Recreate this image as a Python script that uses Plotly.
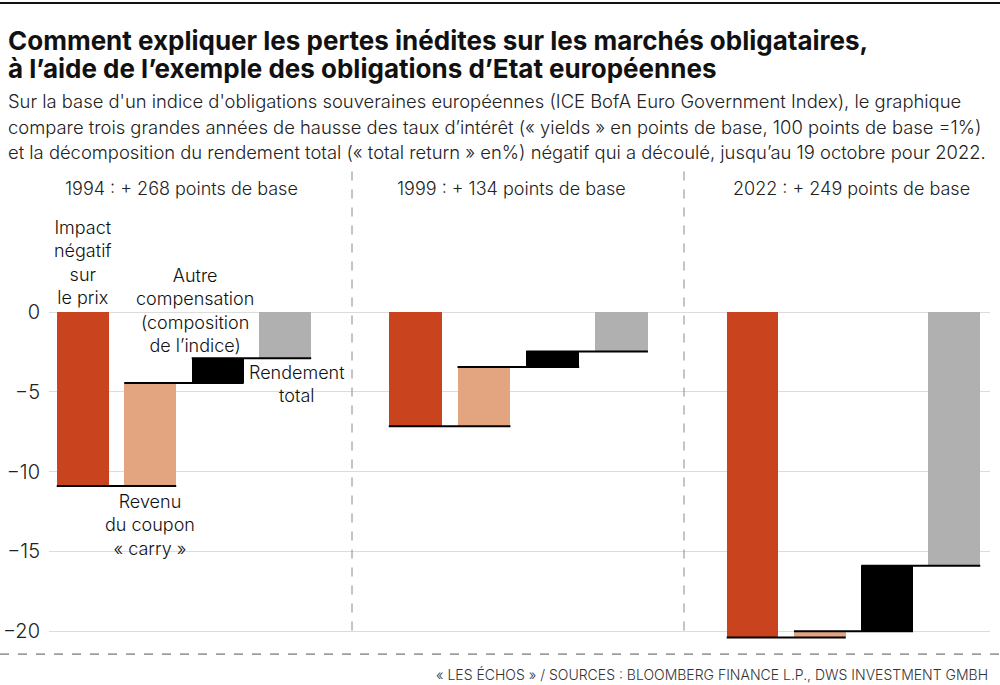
import plotly.graph_objects as go
from plotly.subplots import make_subplots

# ---------------- data ----------------
components = ["Impact négatif sur le prix", "Revenu du coupon « carry »",
              "Autre compensation (composition de l'indice)", "Rendement total"]
years = ["1994", "1999", "2022"]
panel_titles = ["1994 : + 268 points de base", "1999 : + 134 points de base",
                "2022 : + 249 points de base"]
price_impact = [-10.9, -7.15, -20.4]
carry_income = [6.45, 3.7, 0.4]
other_comp = [1.55, 0.98, 4.1]
total_return = [-2.9, -2.47, -15.9]
ytick_vals = [0, -5, -10, -15, -20]
ytick_text = ["0", "−5", "−10", "−15", "−20"]

colors = ["#C8431E", "#E2A57F", "#000000", "#B0B0B0"]

W, H = 1000, 685
def px(x):
    return x / W
def py(y):
    return 1 - y / H

# plot-area geometry (pixels)
top_px, bot_px = 297, 642.6
panel_px = [(49, 352), (352, 684), (684, 990)]
x_ranges = [[-0.5, 3.99], [-0.92, 3.91], [-1.02, 3.53]]
bar_w = 0.77

fig = make_subplots(rows=1, cols=3, shared_yaxes=False)

for p in range(3):
    vals = [price_impact[p], carry_income[p], other_comp[p], total_return[p]]
    c1 = price_impact[p]
    c2 = c1 + carry_income[p]
    bases = [0, c1, c2, 0]
    xs = list(range(4))
    fig.add_trace(go.Bar(x=xs, y=vals, base=bases, width=bar_w,
                         marker=dict(color=colors, line=dict(width=0)),
                         hoverinfo="skip", showlegend=False),
                  row=1, col=p + 1)
    # connector lines
    levels = [c1, c2, total_return[p]]
    cx, cy = [], []
    for i, lv in enumerate(levels):
        cx += [i - bar_w / 2, i + 1 + bar_w / 2, None]
        cy += [lv, lv, None]
    fig.add_trace(go.Scatter(x=cx, y=cy, mode="lines",
                             line=dict(color="#000000", width=2),
                             hoverinfo="skip", showlegend=False),
                  row=1, col=p + 1)

for p in range(3):
    xa = "xaxis" if p == 0 else f"xaxis{p+1}"
    ya = "yaxis" if p == 0 else f"yaxis{p+1}"
    fig.layout[xa].update(domain=[px(panel_px[p][0]), px(panel_px[p][1])],
                          range=x_ranges[p], showticklabels=False,
                          showgrid=False, zeroline=False, showline=False,
                          fixedrange=True)
    fig.layout[ya].update(domain=[py(bot_px), py(top_px)], range=[-20.6, 1],
                          tickvals=ytick_vals, ticktext=ytick_text,
                          showticklabels=(p == 0), showgrid=True,
                          gridcolor="#DCDCDC", gridwidth=1, zeroline=False,
                          showline=False, ticks="",
                          tickfont=dict(family="Inter", size=20, color="#222222", weight=300),
                          ticklabelstandoff=8, fixedrange=True)

font_body = "Inter"
annos = []
# title (two lines, tight spacing)
title_lines = ["Comment expliquer les pertes inédites sur les marchés obligataires,",
               "à l’aide de l’exemple des obligations d’Etat européennes"]
for t, yc in zip(title_lines, [41, 69]):
    annos.append(dict(text="<b>" + t + "</b>", x=px(6), y=py(yc), xanchor="left",
                      yanchor="middle", align="left",
                      font=dict(family="Inter", size=26, color="#111111")))
sub_lines = ["Sur la base d'un indice d'obligations souveraines européennes (ICE BofA Euro Government Index), le graphique",
             "compare trois grandes années de hausse des taux d’intérêt (« yields » en points de base, 100 points de base =1%)",
             "et la décomposition du rendement total (« total return » en%) négatif qui a découlé, jusqu’au 19 octobre pour 2022."]
for t, yc in zip(sub_lines, [101, 127, 152]):
    annos.append(dict(text=t, x=px(6), y=py(yc), xanchor="left", yanchor="middle",
                      align="left", font=dict(family="Inter", size=18.4, color="#222222", weight=300)))
# panel headings
for p, cxp in enumerate([181, 511, 851]):
    annos.append(dict(text=panel_titles[p], x=px(cxp), y=py(189), xanchor="center",
                      yanchor="middle", font=dict(family=font_body, size=18, color="#222222", weight=300)))
# component labels (panel 1)
labels = [
    ("Impact<br>négatif<br>sur<br>le prix", 83, 263),
    ("Autre<br>compensation<br>(composition<br>de l’indice)", 195, 311),
    ("Rendement<br>total", 297, 385),
    ("Revenu<br>du coupon<br>« carry »", 150, 527),
]
for t, x, y in labels:
    annos.append(dict(text=t, x=px(x), y=py(y), xanchor="center", yanchor="middle",
                      align="center", font=dict(family=font_body, size=18, color="#111111", weight=300)))
# footer
annos.append(dict(text="« LES ÉCHOS » / SOURCES : BLOOMBERG FINANCE L.P., DWS INVESTMENT GMBH",
                  x=px(990), y=py(676), xanchor="right", yanchor="middle",
                  font=dict(family=font_body, size=14, color="#333333", weight=300)))
for a in annos:
    a.update(xref="paper", yref="paper", showarrow=False)

shapes = [
    dict(type="line", xref="paper", yref="paper", x0=0, x1=1, y0=py(3), y1=py(3),
         line=dict(color="#111111", width=2)),
    dict(type="line", xref="paper", yref="paper", x0=0, x1=1, y0=py(656), y1=py(656),
         line=dict(color="#555555", width=1, dash="dash")),
]
for sx in [352, 684]:
    shapes.append(dict(type="line", xref="paper", yref="paper", x0=px(sx), x1=px(sx),
                       y0=py(172), y1=py(636), line=dict(color="#888888", width=1, dash="dash")))

fig.update_layout(width=W, height=H, margin=dict(l=0, r=0, t=0, b=0),
                  paper_bgcolor="white", plot_bgcolor="white",
                  annotations=annos, shapes=shapes, bargap=0,
                  font=dict(family=font_body))

fig.write_html("out.html", config={"displayModeBar": False},
               post_script="document.body.style.margin='0';document.body.style.overflow='hidden';")
